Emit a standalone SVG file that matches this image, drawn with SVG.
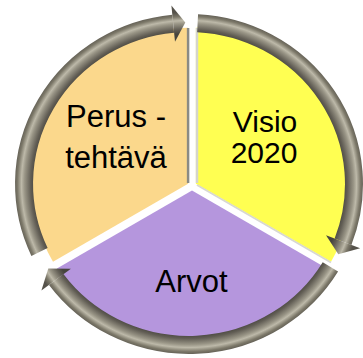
<svg xmlns="http://www.w3.org/2000/svg" width="363" height="358" viewBox="0 0 363 358">
<defs>
<radialGradient id="tube" gradientUnits="userSpaceOnUse" cx="189" cy="184" r="176" gradientTransform="translate(189 184) scale(1 0.976) translate(-189 -184)">
<stop offset="0.875" stop-color="#46443d"/>
<stop offset="0.9" stop-color="#625e55"/>
<stop offset="0.935" stop-color="#9a9687"/>
<stop offset="0.952" stop-color="#bdb9a9"/>
<stop offset="0.975" stop-color="#7c7869"/>
<stop offset="1" stop-color="#55524a"/>
</radialGradient>
<style>
.lbl{font-family:"Liberation Sans",Arial,sans-serif;font-size:31px;fill:#000;text-anchor:middle}
.arc{fill:none;stroke:url(#tube);stroke-width:18;stroke-linecap:butt}
.head{fill:url(#tube)}
</style>
</defs>
<rect width="363" height="358" fill="#ffffff"/>
<g id="node-perustehtava">
<path d="M188.1 183.75 L188.1 27.75 A156 156 0 0 0 53 261.75 Z" fill="#fbd88c"/>
<line x1="188.1" y1="183" x2="188.1" y2="28" stroke="#8a8a84" stroke-width="2.5"/>
<text class="lbl" x="116" y="127">Perus -</text>
<text class="lbl" x="116" y="168">tehtävä</text>
</g>
<g id="node-visio">
<path d="M195.9 183.75 L195.9 27.75 A156 156 0 0 1 331 261.75 Z" fill="#ffff52"/>
<line x1="197" y1="183" x2="197" y2="28" stroke="#d4d4cc" stroke-width="2.5"/>
<line x1="197" y1="185" x2="331" y2="262.5" stroke="#d8d8d0" stroke-width="2"/>
<text class="lbl" x="265" y="132" style="font-size:30px">Visio</text>
<text class="lbl" x="264" y="163" style="font-size:30px">2020</text>
</g>
<g id="node-arvot">
<path d="M192 190.5 L327.1 268.5 A156 156 0 0 1 56.9 268.5 Z" fill="#b596dd"/>
<text class="lbl" x="191.5" y="292">Arvot</text>
</g>
<g id="connectors">
<path class="arc" d="M39.5 252 A165 161 0 0 1 173.2 23.7"/>
<polygon class="head" points="171.4,5.5 185.3,22.5 175,41.8"/>
<path class="arc" d="M197.6 23.2 A165 161 0 0 1 343 241.7"/>
<polygon class="head" points="360.2,248.3 338.3,254.3 326,235.2"/>
<path class="arc" d="M330.4 266.9 A165 161 0 0 1 56.2 279.5"/>
<polygon class="head" points="41.4,290.5 48.3,268.6 70.9,268.7"/>
</g>
</svg>
